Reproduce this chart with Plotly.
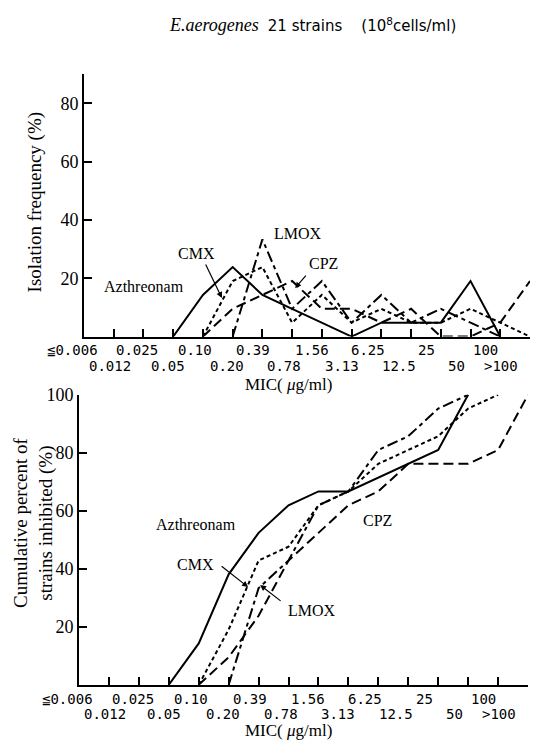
import numpy as np
import plotly.graph_objects as go

# MIC categories (µg/ml), evenly spaced on a category axis
mic_labels = ["≦0.006", "0.012", "0.025", "0.05", "0.10", "0.20", "0.39", "0.78",
              "1.56", "3.13", "6.25", "12.5", "25", "50", "100", ">100"]
n_strains = 21

# Number of strains at each MIC, starting from the first category index given
azt_start = 3
azt_counts = [0, 3, 5, 3, 2, 1, 0, 1, 1, 1, 4, 0]
cmx_start = 4
cmx_counts = [0, 4, 5, 1, 3, 1, 2, 1, 1, 2, 1, 0]
lmox_start = 5
lmox_counts = [0, 7, 2, 4, 1, 3, 1, 2, 1, 0]
cpz_start = 4
cpz_counts = [0, 2, 3, 4, 2, 2, 1, 2, 0, 0, 1, 4]

# horizontal nudges (px) for the two-row MIC labels
label_shift = [-12, -4, -6, -5, -8, -6, -9, -8, -10, -10, -13, -12, -14, -14, -15, -29]

series = [
    ("Azthreonam", azt_start, azt_counts, "solid"),
    ("CMX", cmx_start, cmx_counts, "4px,3px"),
    ("LMOX", lmox_start, lmox_counts, "11px,4px,4px,4px"),
    ("CPZ", cpz_start, cpz_counts, "10px,5px"),
]

fig = go.Figure()
for name, start, counts, dash in series:
    counts = np.array(counts, dtype=float)
    x = np.arange(start, start + len(counts))
    freq = counts / n_strains * 100
    fig.add_trace(go.Scatter(x=x, y=freq, mode="lines", name=name,
                             line=dict(color="black", width=2, dash=dash),
                             xaxis="x", yaxis="y", showlegend=False))
    cum = np.cumsum(counts) / n_strains * 100
    last = int(np.argmax(cum >= 99.999)) + 1
    fig.add_trace(go.Scatter(x=x[:last], y=cum[:last], mode="lines", name=name,
                             line=dict(color="black", width=2, dash=dash),
                             xaxis="x2", yaxis="y2", showlegend=False))

serif = "Liberation Serif"
mono = "DejaVu Sans Mono"

axis_common = dict(showline=True, linewidth=2, linecolor="black", showgrid=False,
                   zeroline=False, ticks="inside", tickcolor="black", tickwidth=1.5)

fig.update_layout(
    width=539, height=745,
    margin=dict(l=0, r=0, t=0, b=0),
    paper_bgcolor="white", plot_bgcolor="white",
    xaxis=dict(domain=[84 / 539, 530 / 539], range=[0, 15], tickvals=list(range(16)),
               ticklen=8, showticklabels=False, anchor="y", **axis_common),
    yaxis=dict(domain=[(745 - 331) / 745, (745 - 65) / 745], range=[0, 90],
               tickvals=[20, 40, 60, 80], ticklen=8, anchor="x",
               tickfont=dict(family=serif, size=18, color="black"), **axis_common),
    xaxis2=dict(domain=[79 / 539, 528 / 539], range=[0, 15], tickvals=list(range(16)),
                ticklen=8, showticklabels=False, anchor="y2", **axis_common),
    yaxis2=dict(domain=[(745 - 684) / 745, (745 - 390) / 745], range=[0, 100],
                tickvals=[20, 40, 60, 80, 100], ticklen=8, anchor="x2",
                tickfont=dict(family=serif, size=18, color="black"), **axis_common),
)

ann = []


def add_text(**kw):
    kw.setdefault("showarrow", False)
    kw.setdefault("xanchor", "center")
    kw.setdefault("yanchor", "middle")
    ann.append(kw)


# two-row MIC labels under both panels
for xr, row1, row2, mic_y in (("x", 345, 361, 380), ("x2", 698, 714, 730)):
    for i, lab in enumerate(mic_labels):
        add_text(x=i, y=(745 - (row1 if i % 2 == 0 else row2)) / 745,
                 xref=xr, yref="paper", text=lab, xshift=label_shift[i],
                 font=dict(family=mono, size=14, color="black"))
    add_text(x=288 / 539, y=(745 - mic_y) / 745, xref="paper", yref="paper",
             text="MIC( <i>μ</i>g/ml)",
             font=dict(family=serif, size=17, color="black"))

# title
add_text(x=312 / 539, y=(745 - 15) / 745, xref="paper", yref="paper",
         text="<i>E.aerogenes</i>  <span style='font-family:DejaVu Sans;font-size:15px'>"
              "21 strains    (10<sup>8</sup>cells/ml)</span>",
         font=dict(family=serif, size=18, color="black"))

# axis titles
add_text(x=35 / 539, y=(745 - 195) / 745, xref="paper", yref="paper",
         text="Isolation frequency (%)", textangle=-90,
         font=dict(family=serif, size=19, color="black"))
add_text(x=33 / 539, y=(745 - 520) / 745, xref="paper", yref="paper",
         text="Cumulative percent of<br>strains inhibited (%)", textangle=-90,
         font=dict(family=serif, size=19, color="black"))

lab_font = dict(family=serif, size=16, color="black")
# series labels, frequency panel
for txt, x, y in (("Azthreonam", 2.02, 17.3), ("CMX", 3.8, 28.5),
                  ("LMOX", 7.2, 35.3), ("CPZ", 8.04, 25.1)):
    add_text(x=x, y=y, xref="x", yref="y", text=txt, font=lab_font)
# series labels, cumulative panel
for txt, x, y in (("Azthreonam", 3.91, 55.1), ("CPZ", 9.96, 56.5),
                  ("CMX", 3.88, 41.5), ("LMOX", 7.78, 25.5)):
    add_text(x=x, y=y, xref="x2", yref="y2", text=txt, font=lab_font)

# pointer arrows
for xr, yr, x, y, ax, ay in (("x", "y", 4.64, 13.2, -17, -35),
                             ("x", "y", 7.1, 16.6, 12, -14),
                             ("x2", "y2", 5.65, 33.7, -28, -22),
                             ("x2", "y2", 6.05, 34.4, 22, 17)):
    ann.append(dict(x=x, y=y, xref=xr, yref=yr, ax=ax, ay=ay, text="", showarrow=True,
                    arrowhead=2, arrowsize=1, arrowwidth=1.2, arrowcolor="black"))

fig.update_layout(annotations=ann)
fig.write_html("out.html")
